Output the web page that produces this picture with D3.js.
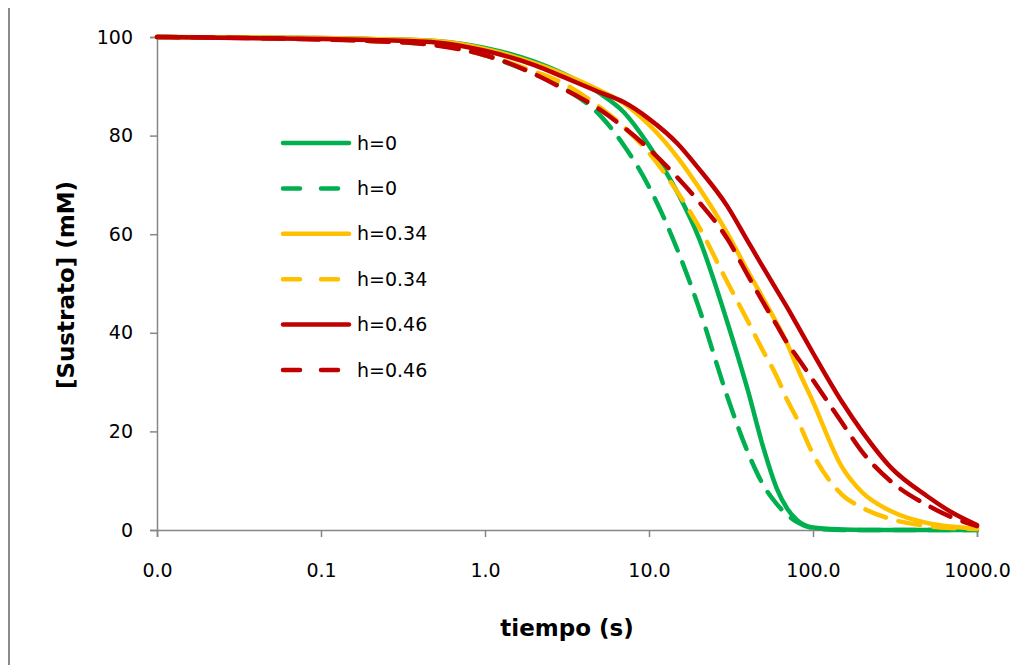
<!DOCTYPE html>
<html>
<head>
<meta charset="utf-8">
<script src="https://cdn.jsdelivr.net/npm/d3@7"></script>
<style>
  html, body { margin: 0; padding: 0; background: #fff; }
  svg { display: block; }
  text { font-family: "DejaVu Sans", Verdana, sans-serif; fill: #000; }
</style>
</head>
<body>
<svg id="chart" width="1036" height="665"></svg>
<script>
// Time points (s) and substrate concentration (mM) for each simulation
const tiempo = [0.01, 0.1, 0.2, 0.5, 1, 2, 3, 5, 7, 10, 15, 20, 30, 40, 50, 60, 70, 80, 100, 150, 200, 300, 500, 700, 1000];

const h0Solid   = [100, 99.8, 99.6, 99.2, 97.8, 95.0, 92.6, 88.6, 84.8, 78.0, 68.3, 59.5, 42.2, 28.4, 16.5, 8.5, 4.2, 2.0, 0.5, 0.1, 0, 0, 0, 0, 0];
const h0Dash    = [100, 99.6, 99.2, 98.4, 96.3, 92.5, 89.7, 84.2, 78.1, 69.6, 56.6, 45.4, 27.1, 15.8, 9.0, 5.3, 3.0, 1.6, 0.4, 0, 0, 0, 0, 0, 0];
const h034Solid = [100, 99.8, 99.6, 99.2, 97.6, 94.7, 92.5, 89.2, 86.6, 82.2, 75.5, 69.6, 60.2, 52.5, 46.8, 42.0, 37.6, 33.0, 26.0, 12.8, 7.6, 3.8, 1.4, 0.7, 0.3];
const h034Dash  = [100, 99.6, 99.2, 98.4, 96.3, 93.0, 90.6, 85.8, 81.8, 76.5, 68.4, 61.7, 50.3, 42.4, 36.1, 31.2, 26.2, 22.5, 15.4, 7.2, 4.5, 2.2, 0.8, 0.4, 0.2];
const h046Solid = [100, 99.6, 99.4, 98.9, 97.2, 94.3, 91.9, 88.8, 86.8, 83.4, 78.3, 73.4, 65.7, 58.6, 53.1, 48.7, 45.0, 41.6, 35.9, 26.0, 19.9, 12.6, 6.8, 3.6, 1.0];
const h046Dash  = [100, 99.5, 99.2, 98.3, 96.3, 92.5, 89.5, 85.3, 81.7, 77.3, 71.4, 66.7, 59.1, 51.7, 46.0, 41.6, 37.8, 35.1, 30.4, 21.8, 15.8, 9.8, 5.0, 2.6, 0.8];

const seriesNames  = ["h=0", "h=0", "h=0.34", "h=0.34", "h=0.46", "h=0.46"];
const seriesValues = [h0Solid, h0Dash, h034Solid, h034Dash, h046Solid, h046Dash];
const seriesColors = ["#00B050", "#00B050", "#FFC000", "#FFC000", "#C00000", "#C00000"];
const seriesDashed = [false, true, false, true, false, true];

const xTicks = [0.01, 0.1, 1, 10, 100, 1000];
const yTicks = [0, 20, 40, 60, 80, 100];

const svg = d3.select("#chart");
const axisColor = "#868686";

const x = d3.scaleLog().domain([0.01, 1000]).range([157, 977]);
const y = d3.scaleLinear().domain([0, 100]).range([530, 37]);

// frame line at the left edge
svg.append("line")
  .attr("x1", 9).attr("x2", 9).attr("y1", 8).attr("y2", 665)
  .attr("stroke", "#8a8a8a").attr("stroke-width", 2);

// Y axis
const yAxis = svg.append("g")
  .attr("transform", "translate(157,0)")
  .call(d3.axisLeft(y).tickValues(yTicks).tickSize(7).tickPadding(17).tickFormat(d3.format("d")));
yAxis.select(".domain").attr("stroke", axisColor).attr("stroke-width", 1.5);
yAxis.selectAll(".tick line").attr("stroke", axisColor).attr("stroke-width", 1.5);
yAxis.selectAll(".tick text").style("font-size", "19px").attr("fill", "#000")
  .style("font-family", "'DejaVu Sans', Verdana, sans-serif");

// X axis
const xAxis = svg.append("g")
  .attr("transform", "translate(0,530)")
  .call(d3.axisBottom(x).tickValues(xTicks).tickSize(7).tickPadding(27).tickFormat(d3.format(".1f")));
xAxis.select(".domain").attr("stroke", axisColor).attr("stroke-width", 1.5);
xAxis.selectAll(".tick line").attr("stroke", axisColor).attr("stroke-width", 1.5);
xAxis.selectAll(".tick text").style("font-size", "19px").attr("fill", "#000")
  .style("font-family", "'DejaVu Sans', Verdana, sans-serif");

// Curves
const line = d3.line()
  .x((d, i) => x(tiempo[i]))
  .y(d => y(d))
  .curve(d3.curveMonotoneX);

seriesValues.forEach((vals, k) => {
  svg.append("path")
    .datum(vals)
    .attr("d", line)
    .attr("fill", "none")
    .attr("stroke", seriesColors[k])
    .attr("stroke-width", 4.5)
    .attr("stroke-linecap", "round")
    .attr("stroke-linejoin", "round")
    .attr("stroke-dasharray", seriesDashed[k] ? "22,13" : null);
});

// Legend
const legend = svg.append("g");
seriesNames.forEach((name, k) => {
  const ly = 143 + k * 45.4;
  legend.append("line")
    .attr("x1", 283).attr("x2", 349).attr("y1", ly).attr("y2", ly)
    .attr("stroke", seriesColors[k]).attr("stroke-width", 4.5)
    .attr("stroke-linecap", "round")
    .attr("stroke-dasharray", seriesDashed[k] ? "17,21" : null);
  legend.append("text")
    .attr("x", 357).attr("y", ly).attr("dy", "0.35em")
    .style("font-size", "19px")
    .text(name);
});

// Axis titles
svg.append("text")
  .attr("x", 567).attr("y", 636)
  .attr("text-anchor", "middle")
  .style("font-size", "23px").style("font-weight", "bold")
  .text("tiempo (s)");

svg.append("text")
  .attr("transform", "translate(74,285) rotate(-90)")
  .attr("text-anchor", "middle")
  .style("font-size", "23px").style("font-weight", "bold")
  .text("[Sustrato] (mM)");
</script>
</body>
</html>
